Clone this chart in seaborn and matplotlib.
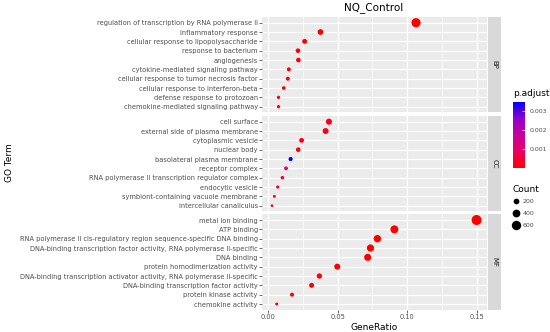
import numpy as np
import pandas as pd
import matplotlib
matplotlib.use("Agg")
import matplotlib.pyplot as plt
from matplotlib.colors import LinearSegmentedColormap, Normalize
from matplotlib.lines import Line2D
import seaborn as sns

# GO enrichment results, one block per ontology (top to bottom as drawn)
bp_terms = ["regulation of transcription by RNA polymerase II", "inflammatory response",
            "cellular response to lipopolysaccharide", "response to bacterium", "angiogenesis",
            "cytokine-mediated signaling pathway", "cellular response to tumor necrosis factor",
            "cellular response to interferon-beta", "defense response to protozoan",
            "chemokine-mediated signaling pathway"]
bp_ratio = [0.1064, 0.0376, 0.0262, 0.0214, 0.0217, 0.0148, 0.0141, 0.0112, 0.0074, 0.0074]
bp_count = [575, 203, 141, 116, 117, 80, 76, 60, 40, 40]
bp_padj = [1e-9, 1e-8, 2e-8, 5e-8, 1e-7, 1e-6, 2e-6, 5e-6, 1e-5, 2e-5]

cc_terms = ["cell surface", "external side of plasma membrane", "cytoplasmic vesicle", "nuclear body",
            "basolateral plasma membrane", "receptor complex",
            "RNA polymerase II transcription regulator complex", "endocytic vesicle",
            "symbiont-containing vacuole membrane", "intercellular canaliculus"]
cc_ratio = [0.0437, 0.0413, 0.0240, 0.0216, 0.0161, 0.0128, 0.0102, 0.0068, 0.0044, 0.0027]
cc_count = [236, 223, 130, 117, 87, 69, 55, 37, 24, 15]
cc_padj = [0.00025, 0.0002, 0.0001, 0.00012, 0.0035, 0.0011, 0.0006, 0.0004, 0.0002, 0.0003]

mf_terms = ["metal ion binding", "ATP binding",
            "RNA polymerase II cis-regulatory region sequence-specific DNA binding",
            "DNA-binding transcription factor activity, RNA polymerase II-specific", "DNA binding",
            "protein homodimerization activity",
            "DNA-binding transcription activator activity, RNA polymerase II-specific",
            "DNA-binding transcription factor activity", "protein kinase activity", "chemokine activity"]
mf_ratio = [0.1500, 0.0908, 0.0786, 0.0736, 0.0716, 0.0497, 0.0368, 0.0312, 0.0171, 0.0061]
mf_count = [690, 418, 362, 339, 329, 229, 169, 144, 79, 28]
mf_padj = [1e-12, 1e-10, 1e-9, 1e-9, 1e-8, 1e-7, 1e-6, 2e-6, 5e-6, 1e-5]

ontologies = ["BP", "CC", "MF"]
frames = []
for ont, terms, ratio, count, padj in [("BP", bp_terms, bp_ratio, bp_count, bp_padj),
                                       ("CC", cc_terms, cc_ratio, cc_count, cc_padj),
                                       ("MF", mf_terms, mf_ratio, mf_count, mf_padj)]:
    frames.append(pd.DataFrame({"ONTOLOGY": ont, "Description": terms, "GeneRatio": ratio,
                                "Count": count, "p.adjust": padj}))
df = pd.concat(frames, ignore_index=True)

# red -> blue gradient (ggplot-like, through magenta)
cmap = LinearSegmentedColormap.from_list(
    "padj", ["#FF0000", "#EB005E", "#C8009B", "#9200CE", "#0000FF"])
hue_norm = Normalize(vmin=0.0, vmax=df["p.adjust"].max())
size_norm = (df["Count"].min(), df["Count"].max())
size_range = (3.8, 52)

W, H = 550, 332
fig = plt.figure(figsize=(W / 100, H / 100), dpi=100)

panel_x0, panel_x1 = 262, 487
panel_y = [(17.1, 112.3), (116.1, 211.3), (214.4, 309.6)]
xlim = (-0.0045, 0.1575)
tick_fs = 4.8

for i, ont in enumerate(ontologies):
    top, bot = panel_y[i]
    ax = fig.add_axes([panel_x0 / W, 1 - bot / H, (panel_x1 - panel_x0) / W, (bot - top) / H])
    sub = df[df["ONTOLOGY"] == ont]
    ax.set_facecolor("#EBEBEB")
    sns.scatterplot(data=sub, x="GeneRatio", y="Description", hue="p.adjust", size="Count",
                    palette=cmap, hue_norm=hue_norm, sizes=size_range, size_norm=size_norm,
                    linewidth=0, legend=False, ax=ax, zorder=3)
    ax.set_xlim(xlim)
    ax.set_ylim(len(sub) - 0.4, -0.6)
    ax.set_xticks([0.0, 0.05, 0.10, 0.15])
    ax.set_xticks([0.025, 0.075, 0.125], minor=True)
    ax.grid(True, which="major", color="white", linewidth=0.9, zorder=0)
    ax.grid(True, which="minor", axis="x", color="white", linewidth=0.45, zorder=0)
    ax.set_axisbelow(True)
    for s in ax.spines.values():
        s.set_visible(False)
    ax.tick_params(axis="y", labelsize=tick_fs, labelcolor="#4D4D4D", color="#333333",
                   length=2, width=0.5, pad=1)
    ax.tick_params(axis="x", which="minor", length=0)
    ax.set_ylabel("")
    if i < 2:
        ax.tick_params(axis="x", which="major", length=0, labelbottom=False)
        ax.set_xlabel("")
    else:
        ax.set_xticklabels(["0.00", "0.05", "0.10", "0.15"])
        ax.tick_params(axis="x", which="major", labelsize=tick_fs, labelcolor="#4D4D4D",
                       color="#333333", length=2, width=0.5, pad=1.5)
        ax.set_xlabel("GeneRatio", fontsize=6.5, labelpad=1.5)

    # facet strip
    sax = fig.add_axes([488 / W, 1 - bot / H, 13 / W, (bot - top) / H])
    sax.set_facecolor("#D9D9D9")
    sax.set_xticks([])
    sax.set_yticks([])
    for s in sax.spines.values():
        s.set_visible(False)
    sax.text(0.5, 0.5, ont, rotation=-90, ha="center", va="center", fontsize=5,
             color="#1A1A1A", transform=sax.transAxes)

fig.text(374 / W, 1 - 8 / H, "NQ_Control", ha="center", va="center", fontsize=7.5)
fig.text(10 / W, 1 - 163 / H, "GO Term", ha="center", va="center", rotation=90, fontsize=6.5)

# colour bar for p.adjust
cax = fig.add_axes([512.7 / W, 1 - 168.3 / H, 12.3 / W, 66.6 / H])
sm = plt.cm.ScalarMappable(cmap=cmap, norm=hue_norm)
cb = fig.colorbar(sm, cax=cax)
cb.outline.set_visible(False)
cb.set_ticks([0.001, 0.002, 0.003])
cb.ax.tick_params(labelsize=4.5, labelcolor="#4D4D4D", color="white", length=2.5,
                  width=0.5, direction="in", pad=3)
fig.text(512.7 / W, 1 - 94 / H, "p.adjust", ha="left", va="center", fontsize=6.5)

# size legend for Count
def count_to_s(c):
    lo, hi = size_norm
    return size_range[0] + (c - lo) / (hi - lo) * (size_range[1] - size_range[0])

legend_counts = [200, 400, 600]
handles = [Line2D([], [], linestyle="none", marker="o", color="black",
                  markersize=np.sqrt(count_to_s(c)), markeredgewidth=0) for c in legend_counts]
fig.text(512.7 / W, 1 - 189 / H, "Count", ha="left", va="center", fontsize=6.5)
fig.legend(handles, [str(c) for c in legend_counts], loc="upper left",
           bbox_to_anchor=(511.5 / W, 1 - 199 / H), frameon=False, fontsize=4.5,
           labelspacing=1.05, handletextpad=0.5, handlelength=1.3, borderpad=0,
           borderaxespad=0, labelcolor="#4D4D4D")

fig.savefig("out.png", dpi=100)
